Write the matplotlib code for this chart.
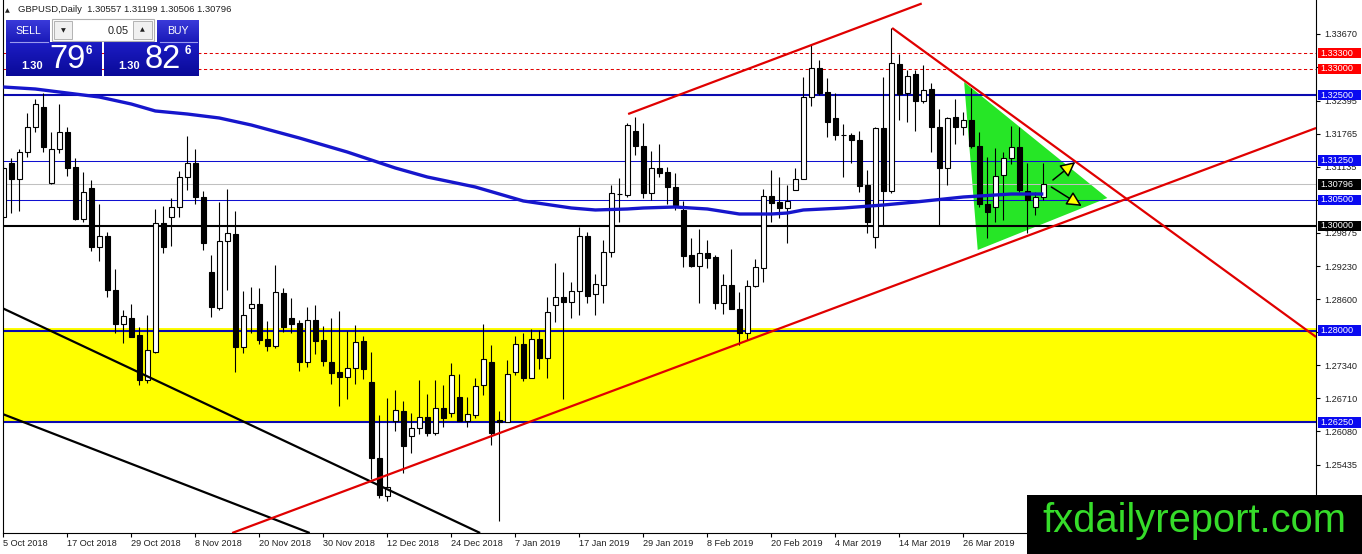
import numpy as np
import matplotlib
matplotlib.use('Agg')
import matplotlib.pyplot as plt
import matplotlib.colors as mcolors
import matplotlib.transforms as mtransforms
from matplotlib.patches import Rectangle, Polygon, FancyArrowPatch

plt.rcParams['font.family'] = ['Liberation Sans', 'DejaVu Sans']

# ---------------- DATA ----------------
opens = [1.30172, 1.31203, 1.30898, 1.31413, 1.31891, 1.32273, 1.30821, 1.31471, 1.31795, 1.31127,
         1.30134, 1.30726, 1.29599, 1.29809, 1.28778, 1.28128, 1.28243, 1.27918, 1.27059, 1.27593,
         1.30057, 1.30172, 1.30363, 1.30936, 1.31203, 1.30554, 1.29121, 1.28434, 1.29714, 1.29847,
         1.27689, 1.28434, 1.28510, 1.27842, 1.27708, 1.28720, 1.28243, 1.28147, 1.27402, 1.28205,
         1.27823, 1.27402, 1.27211, 1.27116, 1.27288, 1.27804, 1.27020, 1.25569, 1.24843, 1.26276,
         1.26467, 1.25989, 1.26142, 1.26352, 1.26046, 1.26524, 1.26428, 1.26734, 1.26276, 1.26390,
         1.26963, 1.27402, 1.26295, 1.26257, 1.27211, 1.27746, 1.27097, 1.27842, 1.27479, 1.28491,
         1.28644, 1.28548, 1.28759, 1.29809, 1.28701, 1.28873, 1.29503, 1.30611, 1.30592, 1.31815,
         1.31528, 1.30630, 1.31108, 1.31031, 1.30745, 1.30306, 1.29446, 1.29236, 1.29484, 1.29408,
         1.28529, 1.28873, 1.28415, 1.27956, 1.28854, 1.29198, 1.30573, 1.30458, 1.30344, 1.30688,
         1.30898, 1.32464, 1.33018, 1.32559, 1.32063, 1.31738, 1.31738, 1.31643, 1.30783, 1.29790,
         1.31872, 1.30669, 1.33094, 1.32540, 1.32903, 1.32388, 1.32617, 1.31891, 1.31108, 1.32082,
         1.31891, 1.32025, 1.31528, 1.30420, 1.30363, 1.30974, 1.31299, 1.31509, 1.30669, 1.30363,
         1.30557]
highs = [1.31203, 1.31299, 1.31471, 1.32158, 1.32426, 1.32540, 1.31795, 1.32330, 1.31891, 1.31299,
         1.31031, 1.30879, 1.30420, 1.29885, 1.29179, 1.28396, 1.28510, 1.28071, 1.28300, 1.30325,
         1.30382, 1.30535, 1.31050, 1.31719, 1.31471, 1.30669, 1.29446, 1.30458, 1.30707, 1.30287,
         1.28759, 1.28835, 1.28816, 1.28186, 1.29255, 1.28816, 1.28625, 1.28205, 1.28453, 1.28491,
         1.28090, 1.28243, 1.28377, 1.27995, 1.28109, 1.27899, 1.27593, 1.26390, 1.26715, 1.26868,
         1.26658, 1.26428, 1.27059, 1.26792, 1.27059, 1.26963, 1.27383, 1.27173, 1.26734, 1.27097,
         1.28128, 1.27727, 1.26467, 1.27441, 1.27899, 1.27956, 1.28033, 1.28014, 1.28644, 1.29293,
         1.29121, 1.28930, 1.29981, 1.29885, 1.29083, 1.29733, 1.30783, 1.30917, 1.31967, 1.32082,
         1.31967, 1.31433, 1.31566, 1.31127, 1.31012, 1.30478, 1.29771, 1.29943, 1.29733, 1.29446,
         1.29083, 1.29561, 1.28739, 1.28969, 1.29370, 1.30707, 1.31070, 1.30936, 1.30783, 1.31108,
         1.32846, 1.33457, 1.33171, 1.32827, 1.32540, 1.31948, 1.31776, 1.31815, 1.31070, 1.31891,
         1.32846, 1.33782, 1.33285, 1.32980, 1.32980, 1.33075, 1.32731, 1.32235, 1.32082, 1.32426,
         1.32177, 1.32636, 1.31795, 1.31318, 1.31490, 1.31413, 1.31910, 1.31891, 1.31203, 1.30649,
         1.31199]
lows = [1.30115, 1.30248, 1.30287, 1.31318, 1.31795, 1.31413, 1.30802, 1.31394, 1.30955, 1.30115,
        1.30076, 1.29523, 1.29332, 1.28644, 1.27956, 1.27765, 1.27880, 1.26963, 1.27001, 1.27574,
        1.29484, 1.29618, 1.30172, 1.30688, 1.30420, 1.29542, 1.28262, 1.28396, 1.28778, 1.27211,
        1.27574, 1.27956, 1.27746, 1.27612, 1.27670, 1.27975, 1.27956, 1.27231, 1.27307, 1.27555,
        1.27326, 1.26982, 1.26562, 1.26696, 1.26982, 1.27078, 1.25168, 1.24805, 1.24747, 1.26085,
        1.25282, 1.25664, 1.26027, 1.25989, 1.26008, 1.26161, 1.26352, 1.26276, 1.26161, 1.26333,
        1.26772, 1.25817, 1.24366, 1.26257, 1.27154, 1.27040, 1.27097, 1.27269, 1.27097, 1.28166,
        1.26696, 1.28243, 1.28300, 1.28529, 1.28300, 1.28529, 1.29408, 1.30076, 1.30554, 1.31356,
        1.30535, 1.30497, 1.30936, 1.30420, 1.30306, 1.29217, 1.29217, 1.28529, 1.29198, 1.28415,
        1.28319, 1.28415, 1.27727, 1.27823, 1.28835, 1.28930, 1.30076, 1.30153, 1.29675, 1.30688,
        1.30898, 1.32292, 1.32502, 1.31700, 1.31643, 1.30936, 1.31203, 1.30649, 1.29866, 1.29580,
        1.30019, 1.30630, 1.32025, 1.31986, 1.31815, 1.32349, 1.31413, 1.30019, 1.30783, 1.31566,
        1.31738, 1.31490, 1.30363, 1.29771, 1.30076, 1.30115, 1.31184, 1.30649, 1.29866, 1.30210,
        1.30506]
closes = [1.31108, 1.30898, 1.31413, 1.31891, 1.32330, 1.31509, 1.31471, 1.31795, 1.31108, 1.30134,
          1.30649, 1.29599, 1.29809, 1.28778, 1.28128, 1.28281, 1.27880, 1.27059, 1.27632, 1.30057,
          1.29599, 1.30363, 1.30936, 1.31203, 1.30554, 1.29675, 1.28453, 1.29714, 1.29866, 1.27689,
          1.28300, 1.28510, 1.27823, 1.27708, 1.28739, 1.28071, 1.28128, 1.27402, 1.28205, 1.27804,
          1.27422, 1.27192, 1.27116, 1.27288, 1.27784, 1.27269, 1.25569, 1.24862, 1.25015, 1.26486,
          1.25798, 1.26142, 1.26352, 1.26046, 1.26524, 1.26333, 1.27154, 1.26276, 1.26409, 1.26944,
          1.27460, 1.26046, 1.26257, 1.27173, 1.27746, 1.27097, 1.27842, 1.27479, 1.28357, 1.28644,
          1.28548, 1.28759, 1.29809, 1.28663, 1.28892, 1.29503, 1.30630, 1.30620, 1.31929, 1.31528,
          1.30630, 1.31108, 1.31012, 1.30745, 1.30401, 1.29427, 1.29236, 1.29484, 1.29389, 1.28529,
          1.28873, 1.28415, 1.27956, 1.28854, 1.29217, 1.30573, 1.30439, 1.30344, 1.30478, 1.30898,
          1.32464, 1.33018, 1.32540, 1.31986, 1.31738, 1.31738, 1.31643, 1.30764, 1.30076, 1.31872,
          1.30669, 1.33114, 1.32521, 1.32865, 1.32388, 1.32598, 1.31891, 1.31108, 1.32063, 1.31891,
          1.32025, 1.31528, 1.30420, 1.30267, 1.30955, 1.31299, 1.31509, 1.30688, 1.30497, 1.30554,
          1.30796]

# moving average (blue thick line), read at selected bars
ma_bars = [0, 4, 8, 12, 16, 19, 23, 27, 31, 37, 43, 49, 53, 59, 65, 71, 74, 78, 80, 84,
           88, 92, 96, 98, 100, 105, 110, 114, 120, 126, 130]
ma_vals = [1.32655, 1.32617, 1.32540, 1.32464, 1.32330, 1.32197, 1.32139, 1.32063, 1.31929, 1.31681,
           1.31413, 1.31108, 1.30936, 1.30745, 1.30478, 1.30344, 1.30306, 1.30325, 1.30344, 1.30363,
           1.30325, 1.30229, 1.30229, 1.30248, 1.30306, 1.30344, 1.30401, 1.30458, 1.30554, 1.30611,
           1.30611]

date_bars = [0, 8, 16, 24, 32, 40, 48, 56, 64, 72, 80, 88, 96, 104, 112, 120]
date_labels = ['5 Oct 2018', '17 Oct 2018', '29 Oct 2018', '8 Nov 2018', '20 Nov 2018',
               '30 Nov 2018', '12 Dec 2018', '24 Dec 2018', '7 Jan 2019', '17 Jan 2019',
               '29 Jan 2019', '8 Feb 2019', '20 Feb 2019', '4 Mar 2019', '14 Mar 2019',
               '26 Mar 2019']
price_ticks = [1.33670, 1.33035, 1.32395, 1.31765, 1.31135, 1.30505, 1.29875, 1.29230,
               1.28600, 1.27970, 1.27340, 1.26710, 1.26080, 1.25435, 1.24805]
# tick labels fully hidden behind the level boxes in the reference
hidden_ticks = [1.33035, 1.30505, 1.27970]

# horizontal levels: (price, line colour, width, style, label box colour)
levels = [(1.33300, '#E00000', 1.0, (0, (3, 2.5)), '#FF0000'),
          (1.33000, '#E00000', 1.0, (0, (3, 2.5)), '#FF0000'),
          (1.32500, '#0A0AB0', 2.0, '-', '#0A0AF0'),
          (1.31250, '#1010D0', 1.0, '-', '#0A0AF0'),
          (1.30796, '#C0C0C0', 1.0, '-', '#000000'),
          (1.30500, '#1010D0', 1.0, '-', '#0A0AF0'),
          (1.30000, '#000000', 2.0, '-', '#000000'),
          (1.28000, '#0A0AB0', 2.0, '-', '#0A0AF0'),
          (1.26250, '#0A0AB0', 2.0, '-', '#0A0AF0')]
zone_low, zone_high = 1.26250, 1.28050

red_lines = [((78.1, 1.32139), (114.8, 1.34250)),
             ((28.6, 1.24136), (164.1, 1.31872)),
             ((111.1, 1.33782), (164.1, 1.27880))]
black_lines = [((-0.42, 1.28453), (59.6, 1.24136)),
               ((-0.42, 1.26428), (38.3, 1.24136))]
triangle = [(120.1, 1.32751), (121.8, 1.29542), (138.0, 1.30535)]
arrows = [((131.2, 1.30879), (134.0, 1.31223)),
          ((131.0, 1.30745), (134.8, 1.30382))]

# ---------------- FIGURE ----------------
W, H = 1362, 554
fig = plt.figure(figsize=(W / 100, H / 100), dpi=100)
fig.patch.set_facecolor('white')

x0px, x1px, ybot = 2.7, 1316.0, 533.0
first_px, bar_px = 3.33, 8.0
ax = fig.add_axes([x0px / W, (H - ybot) / H, (x1px - x0px) / W, ybot / H])
ax.set_xlim((x0px - first_px) / bar_px, (x1px - first_px) / bar_px)
ax.set_ylim(1.241356, 1.343171)
ax.set_facecolor('white')

ax.axhspan(zone_low, zone_high, color='#FFFF00', zorder=0.5, lw=0)
ax.add_patch(Polygon(triangle, closed=True, fc='#26E626', ec='none', zorder=0.6))

for p, col, lw, ls, _ in levels:
    ax.axhline(p, color=col, lw=lw * 0.75, ls=ls, zorder=1.5, snap=True)

o = np.array(opens); h = np.array(highs); l = np.array(lows); c = np.array(closes)
idx = np.arange(len(o))
up = c >= o
ax.vlines(idx, l, h, color='black', lw=0.8, zorder=2)
bb = np.minimum(o, c)
bh = np.maximum(np.abs(c - o), 0.00002)
ax.bar(idx[up], bh[up], bottom=bb[up], width=0.6, color='white', edgecolor='black',
       linewidth=0.8, zorder=2.1)
ax.bar(idx[~up], bh[~up], bottom=bb[~up], width=0.6, color='black', edgecolor='black',
       linewidth=0.8, zorder=2.1)

for (a, b) in black_lines:
    ax.plot([a[0], b[0]], [a[1], b[1]], color='black', lw=1.6, zorder=3, solid_capstyle='butt')
for (a, b) in red_lines:
    ax.plot([a[0], b[0]], [a[1], b[1]], color='#E00000', lw=1.6, zorder=3, solid_capstyle='butt')
ax.plot(ma_bars, ma_vals, color='#1616CC', lw=2.4, zorder=3.2, solid_capstyle='butt')

for (a, b) in arrows:
    ax.add_patch(FancyArrowPatch(a, b, arrowstyle='-|>,head_length=0.9,head_width=0.45',
                                 mutation_scale=10, fc='#FFFF00', ec='black', lw=1.1,
                                 shrinkA=0, shrinkB=0, zorder=4))

# axes styling
ax.spines['top'].set_visible(False)
for s in ['left', 'right', 'bottom']:
    ax.spines[s].set_color('black')
    ax.spines[s].set_linewidth(0.8)
ax.yaxis.tick_right()
ax.set_yticks(price_ticks)
ax.set_yticklabels(['' if v in hidden_ticks else '%.5f' % v for v in price_ticks])
ax.tick_params(axis='y', direction='out', length=3, width=0.8, pad=3, labelsize=6.6,
               labelcolor='#202020')
ax.set_xticks(date_bars)
ax.set_xticklabels(date_labels, ha='left')
ax.tick_params(axis='x', direction='out', length=3, width=0.8, pad=1.5, labelsize=6.6,
               labelcolor='#202020')

# right-hand price boxes
trans = mtransforms.blended_transform_factory(ax.transAxes, ax.transData)
axw = x1px - x0px
bx0 = (1317.5 - x0px) / axw
bx1 = (1361.0 - x0px) / axw
hh = 5.2 / 5235.0
for p, _, _, _, bcol in levels:
    ax.add_patch(Rectangle((bx0, p - hh), bx1 - bx0, 2 * hh, transform=trans, fc=bcol,
                           ec='none', clip_on=False, zorder=10))
    ax.text((1320.5 - x0px) / axw, p, '%.5f' % p, transform=trans, color='white',
            fontsize=6.6, va='center', ha='left', zorder=11, clip_on=False)

# ---------------- overlay: panel + watermark ----------------
ov = fig.add_axes([0, 0, 1, 1])
ov.set_zorder(5)
ov.axis('off')


def grad_rect(x0, y0, x1, y1, ctop, cbot):
    g = np.linspace(0, 1, 64)[:, None, None]
    ct = np.array(mcolors.to_rgb(ctop))[None, None, :]
    cb = np.array(mcolors.to_rgb(cbot))[None, None, :]
    img = ct * (1 - g) + cb * g
    ov.imshow(img, extent=(x0, x1, y1, y0), aspect='auto', interpolation='bilinear', zorder=5)


grad_rect(6, 20, 50, 42, '#3A3ADA', '#1A1AB8')
grad_rect(157, 20, 199, 42, '#3A3ADA', '#1A1AB8')
grad_rect(6, 42, 102, 76, '#1C1CC4', '#0A0A98')
grad_rect(104, 42, 199, 76, '#1C1CC4', '#0A0A98')
ov.plot([10, 48], [42, 42], color='#9A9AEE', lw=0.8, zorder=6)
ov.plot([160, 197], [42, 42], color='#9A9AEE', lw=0.8, zorder=6)

ov.add_patch(Rectangle((52, 19), 102, 22, fc='white', ec='#B0B0B0', lw=0.8, zorder=5))
ov.add_patch(Rectangle((54, 21), 18, 18, fc='#F0F0F0', ec='#A8A8A8', lw=0.6, zorder=6))
ov.add_patch(Rectangle((133, 21), 19, 18, fc='#F0F0F0', ec='#A8A8A8', lw=0.6, zorder=6))
ov.text(63, 30.5, '▼', fontsize=4.5, ha='center', va='center', color='#202020',
        family='DejaVu Sans', zorder=7)
ov.text(142.5, 30, '▲', fontsize=4.5, ha='center', va='center', color='#202020',
        family='DejaVu Sans', zorder=7)
ov.text(129, 30.5, '0.05', fontsize=7.8, ha='right', va='center', color='#202020', zorder=7)

ov.text(28, 31, 'SELL', fontsize=7.6, ha='center', va='center', color='white', zorder=7)
ov.text(178, 31, 'BUY', fontsize=7.6, ha='center', va='center', color='white', zorder=7)
ov.text(21, 69, '1.30', fontsize=8, fontweight='bold', ha='left', va='baseline', color='white', zorder=7)
ov.text(49, 68, '79', fontsize=23.5, ha='left', va='baseline', color='white', zorder=7)
ov.text(86, 45.5, '6', fontsize=8.5, fontweight='bold', ha='left', va='top', color='white', zorder=7)
ov.text(118, 69, '1.30', fontsize=8, fontweight='bold', ha='left', va='baseline', color='white', zorder=7)
ov.text(145, 68, '82', fontsize=23.5, ha='left', va='baseline', color='white', zorder=7)
ov.text(185, 45.5, '6', fontsize=8.5, fontweight='bold', ha='left', va='top', color='white', zorder=7)

ov.text(5, 10.5, '▲', fontsize=4.5, ha='left', va='center', color='#202020',
        family='DejaVu Sans', zorder=7)
ov.text(18, 10, 'GBPUSD,Daily  1.30557 1.31199 1.30506 1.30796', fontsize=6.8,
        ha='left', va='center', color='#202020', zorder=7)

ov.add_patch(Rectangle((1027, 495), W - 1027, H - 495, fc='black', ec='none', zorder=8))
ov.text(1042, 532, 'fxdailyreport.com', fontsize=28.7, color='#36DC2A', ha='left',
        va='baseline', zorder=9)

ov.set_xlim(0, W)
ov.set_ylim(H, 0)

fig.savefig('out.png', dpi=100, facecolor='white')
